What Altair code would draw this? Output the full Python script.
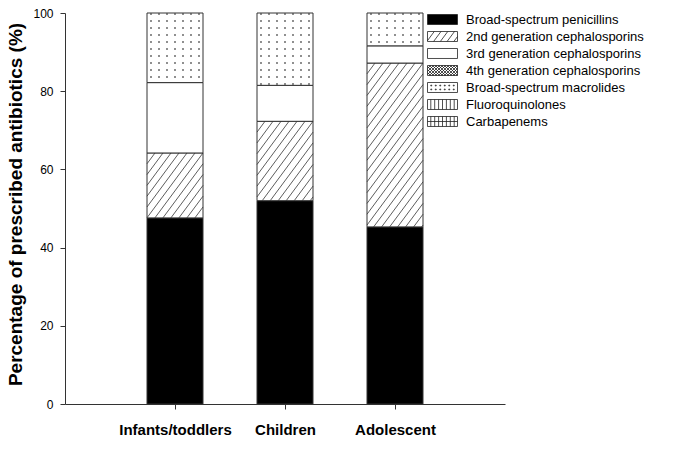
import json

import altair as alt
import numpy as np
import pandas as pd

# Age groups along the x axis and antibiotic classes stacked in each bar (bottom to top)
groups = ["Infants/toddlers", "Children", "Adolescent"]
classes = [
    "Broad-spectrum penicillins",
    "2nd generation cephalosporins",
    "3rd generation cephalosporins",
    "4th generation cephalosporins",
    "Broad-spectrum macrolides",
    "Fluoroquinolones",
    "Carbapenems",
]
# Share of prescriptions (%) per class, in the order of `classes`
pct_infants = [47.6, 16.6, 18.0, 0.0, 17.8, 0.0, 0.0]
pct_children = [52.0, 20.3, 9.2, 0.0, 18.5, 0.0, 0.0]
pct_adolescent = [45.3, 41.9, 4.4, 0.0, 8.4, 0.0, 0.0]
y_ticks = [0, 20, 40, 60, 80, 100]

class_fill = ["black", "white", "white", "white", "white", "white", "white"]

FONT = "Liberation Sans"
W, H = 440, 391
X_MAX = 4
PX_X = W / X_MAX
PX_Y = H / 100
BAR_HALF = 28 / PX_X
INK = "#333333"


def clip_segment(x0, y0, dx, dy, xmin, xmax, ymin, ymax):
    """Liang-Barsky clip of (x0 + t*dx, y0 + t*dy), t in [0, 1], to a box."""
    t0, t1 = 0.0, 1.0
    for p, q in ((-dx, x0 - xmin), (dx, xmax - x0), (-dy, y0 - ymin), (dy, ymax - y0)):
        if p == 0:
            if q < 0:
                return None
            continue
        r = q / p
        if p < 0:
            if r > t1:
                return None
            t0 = max(t0, r)
        else:
            if r < t0:
                return None
            t1 = min(t1, r)
    if t1 - t0 < 1e-9:
        return None
    return (x0 + t0 * dx, y0 + t0 * dy, x0 + t1 * dx, y0 + t1 * dy)


def hatch(w, h, spacing, slope, direction=1):
    """Parallel lines inside [0,w]x[0,h] (y up); direction 1 rises to the right."""
    run = h / slope
    segs = []
    s = -run if direction == 1 else 0.0
    end = w if direction == 1 else w + run
    while s <= end + 1e-9:
        seg = clip_segment(s, 0.0, run * direction, h, 0.0, w, 0.0, h)
        if seg:
            segs.append(seg)
        s += spacing
    return segs


# ---- stacked segments -------------------------------------------------------
values = dict(zip(groups, [pct_infants, pct_children, pct_adolescent]))
rows = []
for i, g in enumerate(groups):
    base = 0.0
    for c, v in zip(classes, values[g]):
        rows.append(dict(group=g, series=c, x0=i + 1 - BAR_HALF, x1=i + 1 + BAR_HALF,
                         y0=base, y1=base + v))
        base += v
seg = pd.DataFrame(rows)
seg = seg[seg.y1 > seg.y0].reset_index(drop=True)

# diagonal hatching for 2nd generation cephalosporins
hatch_rows = []
for r in seg[seg.series == classes[1]].itertuples():
    w_px = (r.x1 - r.x0) * PX_X
    h_px = (r.y1 - r.y0) * PX_Y
    for a, b, c, d in hatch(w_px, h_px, 8.0, 1.35):
        hatch_rows.append(dict(x0=r.x0 + a / PX_X, y0=r.y0 + b / PX_Y,
                               x1=r.x0 + c / PX_X, y1=r.y0 + d / PX_Y))
hatch_df = pd.DataFrame(hatch_rows)

# dot screen for broad-spectrum macrolides
dot_rows = []
for r in seg[seg.series == classes[4]].itertuples():
    w_px = (r.x1 - r.x0) * PX_X
    h_px = (r.y1 - r.y0) * PX_Y
    for xp in np.arange(4.0, w_px - 1.0, 8.0):
        for yp in np.arange(h_px - 1.0, 1.0, -7.0):
            dot_rows.append(dict(x0=r.x0 + xp / PX_X, y0=r.y0 + yp / PX_Y))
dot_df = pd.DataFrame(dot_rows)

# ---- legend swatches as custom symbol paths ([-1, 1] unit box) -----------
BY = 1 / 3


def box_path():
    return f"M-1,{-BY:.3f}H1V{BY:.3f}H-1Z"


def lines_path(segs, ox=-1.0, oy=-BY):
    return "".join(
        f"M{a + ox:.3f},{-(b + oy):.3f}L{c + ox:.3f},{-(d + oy):.3f}" for a, b, c, d in segs
    )


def dots_path():
    out = ""
    for xv in np.arange(-0.75, 0.76, 0.3):
        for yv in (-0.13, 0.13):
            out += f"M{xv - 0.03:.3f},{yv - 0.03:.3f}h0.06v0.06h-0.06Z"
    return out


def verticals_path():
    return "".join(f"M{xv:.3f},{-BY:.3f}V{BY:.3f}" for xv in np.arange(-0.78, 0.79, 0.26))


swatches = [
    box_path(),
    box_path() + lines_path(hatch(2, 2 * BY, 0.45, 1.35)),
    box_path(),
    box_path() + lines_path(hatch(2, 2 * BY, 0.2, 1.0, 1)) + lines_path(hatch(2, 2 * BY, 0.2, 1.0, -1)),
    box_path() + dots_path(),
    box_path() + verticals_path(),
    box_path() + verticals_path() + "M-1,0H1",
]

# ---- chart -----------------------------------------------------------------
x_scale = alt.Scale(domain=[0, X_MAX], nice=False, zero=False)
y_scale = alt.Scale(domain=[0, 100], nice=False)
label_expr = f"{json.dumps(groups)}[datum.value - 1]"

x_axis = alt.Axis(values=[1, 2, 3], labelExpr=label_expr, title=None,
                  labelFontSize=15, labelFontWeight="bold", labelPadding=13,
                  tickSize=5, labelColor="black", labelFont=FONT)
y_axis = alt.Axis(values=y_ticks, title="Percentage of prescribed antibiotics (%)",
                  titleFontSize=19, titleFontWeight="bold", titleFont=FONT,
                  titleX=-50, titleY=191, titleAngle=270, titleAlign="center",
                  titleBaseline="middle", titleColor="black",
                  labelFontSize=12, labelPadding=7, tickSize=5,
                  labelColor="black", labelFont=FONT)

x_enc = alt.X("x0:Q", scale=x_scale, axis=x_axis)
y_enc = alt.Y("y0:Q", scale=y_scale, axis=y_axis)

bars = alt.Chart(seg).mark_rect(stroke=INK, strokeWidth=1).encode(
    x=x_enc,
    x2="x1",
    y=y_enc,
    y2="y1",
    fill=alt.condition(alt.datum.series == classes[0], alt.value("black"), alt.value("white")),
)

hatch_layer = alt.Chart(hatch_df).mark_rule(color=INK, strokeWidth=0.8).encode(
    x=x_enc, y=y_enc, x2="x1", y2="y1",
)

dot_layer = alt.Chart(dot_df).mark_square(size=2.5, color="#444444", opacity=1).encode(
    x=x_enc, y=y_enc,
)

key_legend = alt.Legend(
    title=None, orient="none", legendX=362, legendY=-2, padding=0,
    symbolSize=900, clipHeight=17, rowPadding=0, labelOffset=8,
    labelFontSize=13, labelFont=FONT, labelColor="black", labelLimit=300,
    symbolStrokeWidth=0.8, symbolOpacity=1,
)

key = alt.Chart(seg).transform_filter("false").mark_point(filled=True, opacity=1).encode(
    shape=alt.Shape("series:N", scale=alt.Scale(domain=classes, range=swatches), legend=key_legend),
    fill=alt.Fill("series:N", scale=alt.Scale(domain=classes, range=class_fill), legend=key_legend),
    stroke=alt.Stroke("series:N", scale=alt.Scale(domain=classes, range=["#222222"] * len(classes)),
                      legend=key_legend),
)

chart = (
    alt.layer(bars, hatch_layer, dot_layer, key)
    .properties(
        width=W, height=H,
        padding={"left": 65, "top": 13, "right": 674 - 65 - W, "bottom": 462 - 13 - H},
        autosize=alt.AutoSizeParams(type="none"),
        background="white",
    )
    .configure_view(stroke=None)
    .configure_axis(grid=False, domainColor=INK, tickColor=INK, domainWidth=1, tickWidth=1)
)

chart.save("out.html", embed_options={"renderer": "svg", "actions": False})
